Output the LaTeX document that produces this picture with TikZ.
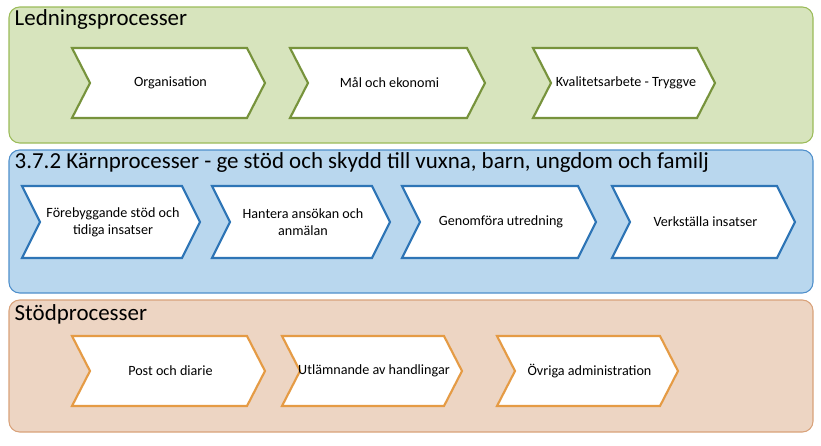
\documentclass[tikz,border=0pt]{standalone}
\usepackage{fontspec}
\setmainfont{Carlito}
\definecolor{grnfill}{HTML}{D7E4BD}
\definecolor{grnline}{HTML}{9BBB59}
\definecolor{grnchev}{HTML}{77933C}
\definecolor{blufill}{HTML}{B9D7EE}
\definecolor{bluline}{HTML}{4F8FCB}
\definecolor{bluchev}{HTML}{2E75B6}
\definecolor{orgfill}{HTML}{EDD5C3}
\definecolor{orgline}{HTML}{D9A27A}
\definecolor{orgchev}{HTML}{E59B45}
\tikzset{
  panel/.style={rounded corners=8pt, line width=0.8pt},
  heading/.style={anchor=west, font=\fontsize{17.2}{19}\selectfont},
  chevtext/.style={align=center, font=\fontsize{10.6}{13}\selectfont}
}
% name, x1, x2, y1, y2, colour, text
\newcommand{\chevron}[7]{%
  \draw[fill=white, draw=#6, line width=1.6pt]
    (#2,#4) -- (#3-18,#4) -- (#3,{(#4+#5)/2}) -- (#3-18,#5) -- (#2,#5)
    -- (#2+18,{(#4+#5)/2}) -- cycle;
  \node[chevtext] (#1) at ({(#2+#3)/2+2},{(#4+#5)/2}) {#7};}
\begin{document}
\begin{tikzpicture}[x=0.75pt,y=-0.75pt]
  \useasboundingbox (0,0) rectangle (821,446);

  \draw[panel, fill=grnfill, draw=grnline] (9,7) rectangle (813,143);
  \node[heading] (ledning) at (10,20) {Ledningsprocesser};
  \chevron{organisation}{72}{265}{48}{118}{grnchev}{Organisation}
  \chevron{mal}{290}{485}{48}{118}{grnchev}{Mål och ekonomi}
  \chevron{kvalitet}{533}{715}{48}{118}{grnchev}{Kvalitetsarbete - Tryggve}

  \draw[panel, fill=blufill, draw=bluline] (9,150) rectangle (813,293);
  \node[heading] (karn) at (10,163) {3.7.2 Kärnprocesser - ge stöd och skydd till vuxna, barn, ungdom och familj};
  \chevron{forebygg}{22}{200}{186}{258}{bluchev}{Förebyggande stöd och\\tidiga insatser}
  \chevron{hantera}{212}{390}{186}{258}{bluchev}{Hantera ansökan och\\anmälan}
  \chevron{utredning}{402}{596}{186}{258}{bluchev}{Genomföra utredning}
  \chevron{verkstalla}{612}{795}{186}{258}{bluchev}{Verkställa insatser}

  \draw[panel, fill=orgfill, draw=orgline] (9,300) rectangle (813,432);
  \node[heading] (stod) at (10,314) {Stödprocesser};
  \chevron{post}{72}{265}{336}{406}{orgchev}{Post och diarie}
  \chevron{utlamnande}{282}{462}{336}{406}{orgchev}{Utlämnande av handlingar}
  \chevron{ovriga}{497}{678}{336}{406}{orgchev}{Övriga administration}
\end{tikzpicture}
\end{document}
